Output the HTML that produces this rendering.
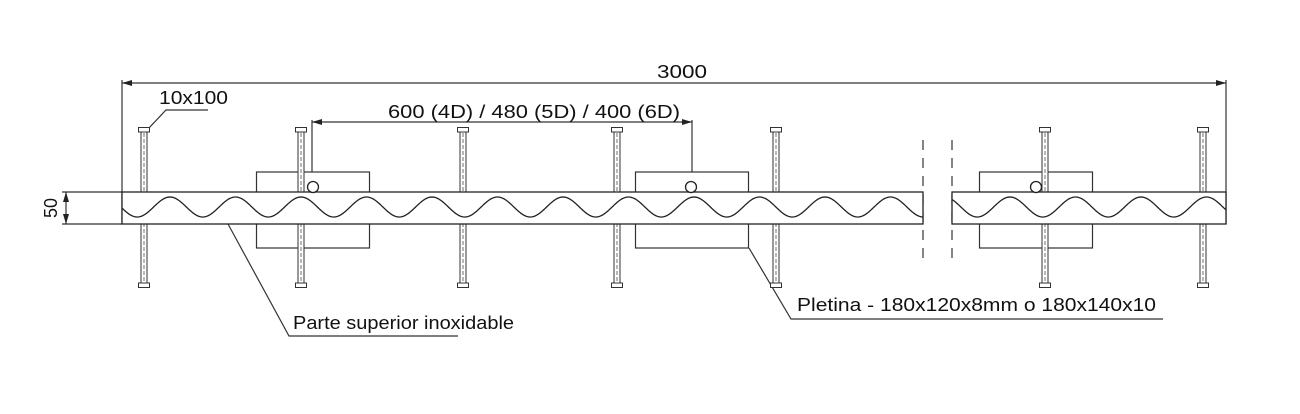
<!DOCTYPE html>
<html><head><meta charset="utf-8"><style>
body{margin:0;background:#fff}
svg{display:block}
text{font-family:"Liberation Sans",sans-serif;fill:#111}
</style></head><body>
<svg id="s" width="1300" height="414" viewBox="0 0 1300 414" xmlns="http://www.w3.org/2000/svg">
<defs>
<marker id="a" viewBox="0 0 10 6" refX="10" refY="3" markerWidth="10" markerHeight="6" orient="auto-start-reverse" markerUnits="userSpaceOnUse"><path d="M0,0L10,3L0,6z" fill="#222"/></marker>
</defs>
<g stroke="#333" stroke-width="1.2" fill="none">
<line x1="122" y1="83" x2="1226" y2="83" marker-start="url(#a)" marker-end="url(#a)"/>
<line x1="122" y1="80" x2="122" y2="224"/>
<line x1="1226" y1="80" x2="1226" y2="224"/>
<line x1="312" y1="122" x2="692" y2="122" marker-start="url(#a)" marker-end="url(#a)"/>
<line x1="312" y1="120" x2="312" y2="172"/>
<line x1="692" y1="120" x2="692" y2="172"/>
<rect x="256.5" y="172" width="113" height="76"/>
<rect x="635.5" y="172" width="113" height="76"/>
<rect x="979.5" y="172" width="113" height="76"/>
<line x1="62" y1="192" x2="122" y2="192"/>
<line x1="62" y1="224" x2="122" y2="224"/>
<line x1="66" y1="192" x2="66" y2="224" marker-start="url(#a)" marker-end="url(#a)"/>
<line x1="923" y1="140" x2="923" y2="265" stroke-dasharray="10,8"/>
<line x1="952" y1="140" x2="952" y2="265" stroke-dasharray="10,8"/>
<polyline points="148,129 166,110 208,110"/>
<polyline points="228,224 289,336 458,336"/>
<polyline points="749,248 791,319 1163,319"/>
</g>
<g id="bolts" stroke="#333" stroke-width="1" fill="#fff"></g>
<g stroke="#222" stroke-width="1.3" fill="#fff">
<rect x="122" y="192" width="801" height="32"/>
<rect x="952" y="192" width="274" height="32"/>
<circle cx="313" cy="187" r="5.5"/>
<circle cx="691" cy="187" r="5.5"/>
<circle cx="1036" cy="187" r="5.5"/>
</g>
<path id="w" stroke="#222" stroke-width="1.3" fill="none"/>
<text x="657" y="78" font-size="18" textLength="50" lengthAdjust="spacingAndGlyphs">3000</text>
<text x="159" y="104" font-size="18" textLength="69" lengthAdjust="spacingAndGlyphs">10x100</text>
<text x="388" y="118" font-size="18.5" textLength="292" lengthAdjust="spacingAndGlyphs">600 (4D) / 480 (5D) / 400 (6D)</text>
<text x="0" y="0" font-size="18" text-anchor="middle" transform="translate(57,208) rotate(-90)">50</text>
<text x="293" y="329" font-size="18" textLength="221" lengthAdjust="spacingAndGlyphs">Parte superior inoxidable</text>
<text x="797" y="311" font-size="18" textLength="359" lengthAdjust="spacingAndGlyphs">Pletina - 180x120x8mm o 180x140x10</text>
</svg>
<script>
var ns="http://www.w3.org/2000/svg";
var d="";
function seg(x0,x1,c){for(var x=x0;x<=x1;x+=1){var y=207-10*Math.cos(2*Math.PI*(x-c)/65.5);d+=(x==x0?"M":"L")+x+","+y.toFixed(2);}}
seg(122,923,170);seg(952,1226,1010);
document.getElementById("w").setAttribute("d",d);
var g=document.getElementById("bolts");
[144,301,463,617,776,1045,1203].forEach(function(x){
 function r(a,b,c,e){var el=document.createElementNS(ns,"rect");el.setAttribute("x",a);el.setAttribute("y",b);el.setAttribute("width",c);el.setAttribute("height",e);g.appendChild(el);}
 r(x-3,131,6,153);
 var l=document.createElementNS(ns,"line");l.setAttribute("x1",x);l.setAttribute("x2",x);l.setAttribute("y1",133);l.setAttribute("y2",282);l.setAttribute("stroke-dasharray","4,2");l.setAttribute("stroke-width","0.7");g.appendChild(l);
 r(x-5.5,127.5,11,4.5);r(x-5.5,283,11,4.5);
});
</script>
</body></html>
